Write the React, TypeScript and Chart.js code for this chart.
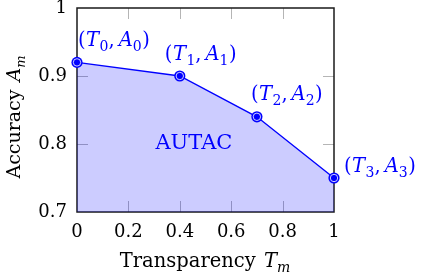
import React, { useEffect, useRef } from 'react';
import { Chart, registerables } from 'chart.js';

Chart.register(...registerables);

// ---- data ----
const transparency = [0, 0.4, 0.7, 1];
const accuracy = [0.92, 0.9, 0.84, 0.75];
const pointIndices = ['0', '1', '2', '3'];
const xTicks = [0, 0.2, 0.4, 0.6, 0.8, 1];
const xTickLabels = ['0', '0.2', '0.4', '0.6', '0.8', '1'];
const yTicks = [0.7, 0.8, 0.9, 1];
const yTickLabels = ['0.7', '0.8', '0.9', '1'];
const regionText = 'AUTAC';
const regionAt = [0.455, 0.8];
const xTitle = ['Transparency ', 'T', 'm'];
const yTitle = ['Accuracy ', 'A', 'm'];

// ---- styling / placement ----
const SERIF = '"DejaVu Serif", "Liberation Serif", serif';
const BLUE = '#0000ff';
const labelOffsets = [
  [1, -16],
  [-15, -16],
  [-6, -17],
  [10, -6],
];

type Seg = { t: string; italic?: boolean; sub?: boolean; gap?: number };

function drawSegs(
  ctx: CanvasRenderingContext2D,
  segs: Seg[],
  x: number,
  y: number,
  size: number,
  align: 'left' | 'center'
) {
  const fontFor = (s: Seg) =>
    `${s.italic ? 'italic ' : ''}${s.sub ? Math.round(size * 0.7) : size}px ${SERIF}`;
  let total = 0;
  const widths: number[] = [];
  for (const s of segs) {
    ctx.font = fontFor(s);
    const w = ctx.measureText(s.t).width + (s.gap || 0);
    widths.push(w);
    total += w;
  }
  let cx = align === 'center' ? x - total / 2 : x;
  ctx.textAlign = 'left';
  ctx.textBaseline = 'alphabetic';
  segs.forEach((s, i) => {
    ctx.font = fontFor(s);
    ctx.fillText(s.t, cx, s.sub ? y + size * 0.25 : y);
    cx += widths[i];
  });
}

const decor = {
  id: 'decor',
  beforeDatasetsDraw(chart: any) {
    const { ctx, chartArea: a, scales } = chart;
    const x = scales.x;
    const y = scales.y;
    ctx.save();
    ctx.strokeStyle = '#b5b5b5';
    ctx.lineWidth = 1;
    const TL = 11;
    for (const v of xTicks) {
      if (v <= x.min || v >= x.max) continue;
      const px = Math.round(x.getPixelForValue(v)) + 0.5;
      ctx.beginPath();
      ctx.moveTo(px, a.top);
      ctx.lineTo(px, a.top + TL);
      ctx.moveTo(px, a.bottom);
      ctx.lineTo(px, a.bottom - TL);
      ctx.stroke();
    }
    for (const v of yTicks) {
      if (v <= y.min || v >= y.max) continue;
      const py = Math.round(y.getPixelForValue(v)) + 0.5;
      ctx.beginPath();
      ctx.moveTo(a.left, py);
      ctx.lineTo(a.left + TL, py);
      ctx.moveTo(a.right, py);
      ctx.lineTo(a.right - TL, py);
      ctx.stroke();
    }
    ctx.strokeStyle = '#1a1a1a';
    ctx.lineWidth = 1.5;
    ctx.strokeRect(a.left, a.top, a.right - a.left, a.bottom - a.top);
    ctx.restore();
  },
  afterDraw(chart: any) {
    const { ctx, scales } = chart;
    const x = scales.x;
    const y = scales.y;
    ctx.save();
    ctx.fillStyle = BLUE;
    // region label
    ctx.font = `21px ${SERIF}`;
    ctx.textAlign = 'center';
    ctx.textBaseline = 'middle';
    ctx.fillText(regionText, x.getPixelForValue(regionAt[0]), y.getPixelForValue(regionAt[1]));
    // point labels
    transparency.forEach((t, i) => {
      const px = x.getPixelForValue(t) + labelOffsets[i][0];
      const py = y.getPixelForValue(accuracy[i]) + labelOffsets[i][1];
      drawSegs(
        ctx,
        [
          { t: '(', gap: 0.5 },
          { t: 'T', italic: true, gap: 0.5 },
          { t: pointIndices[i], sub: true },
          { t: ',', gap: 4 },
          { t: 'A', italic: true, gap: 0 },
          { t: pointIndices[i], sub: true, gap: 0.5 },
          { t: ')' },
        ],
        px,
        py,
        19.5,
        'left'
      );
    });
    // axis titles
    ctx.fillStyle = '#000';
    drawSegs(
      ctx,
      [{ t: xTitle[0], gap: 2 }, { t: xTitle[1], italic: true }, { t: xTitle[2], italic: true, sub: true }],
      205,
      267,
      19.5,
      'center'
    );
    ctx.translate(20, 117);
    ctx.rotate(-Math.PI / 2);
    drawSegs(
      ctx,
      [{ t: yTitle[0], gap: 2 }, { t: yTitle[1], italic: true }, { t: yTitle[2], italic: true, sub: true }],
      0,
      0,
      19,
      'center'
    );
    ctx.restore();
  },
};

export default function App() {
  const ref = useRef<HTMLCanvasElement | null>(null);
  useEffect(() => {
    if (!ref.current) return;
    const pts = transparency.map((t, i) => ({ x: t, y: accuracy[i] }));
    const tickFont = { family: SERIF, size: 18 };
    const chart = new Chart(ref.current, {
      type: 'line',
      data: {
        datasets: [
          {
            data: pts,
            borderColor: BLUE,
            borderWidth: 1.4,
            backgroundColor: 'rgba(0,0,255,0.2)',
            fill: 'start',
            pointRadius: 5.6,
            pointBackgroundColor: BLUE,
            pointBorderWidth: 0,
            clip: false,
            order: 1,
          } as any,
          {
            data: pts,
            showLine: false,
            pointRadius: 3.7,
            pointBackgroundColor: BLUE,
            pointBorderColor: '#ffffff',
            pointBorderWidth: 0.8,
            clip: false,
            order: 0,
          } as any,
        ],
      },
      options: {
        responsive: false,
        animation: false,
        devicePixelRatio: 1,
        layout: { padding: { top: 8, right: 88, left: 0, bottom: 0 } },
        plugins: { legend: { display: false }, tooltip: { enabled: false } },
        scales: {
          x: {
            type: 'linear',
            min: 0,
            max: 1,
            afterBuildTicks: (s: any) => {
              s.ticks = xTicks.map((v) => ({ value: v }));
            },
            afterFit: (s: any) => {
              s.height = 62;
              s.paddingLeft = 0;
              s.paddingRight = 0;
            },
            ticks: {
              callback: (_v: any, i: number) => xTickLabels[i],
              font: tickFont,
              color: '#000',
              padding: 10,
              maxRotation: 0,
              autoSkip: false,
            },
            grid: { display: false, drawTicks: false },
            border: { display: false },
          },
          y: {
            type: 'linear',
            min: 0.7,
            max: 1,
            afterBuildTicks: (s: any) => {
              s.ticks = yTicks.map((v) => ({ value: v }));
            },
            afterFit: (s: any) => {
              s.width = 77;
              s.paddingTop = 0;
              s.paddingBottom = 0;
            },
            ticks: {
              callback: (_v: any, i: number) => yTickLabels[i],
              font: tickFont,
              color: '#000',
              padding: 10,
              autoSkip: false,
            },
            grid: { display: false, drawTicks: false },
            border: { display: false },
          },
        },
      } as any,
      plugins: [decor],
    });
    return () => chart.destroy();
  }, []);
  return (
    <canvas
      ref={ref}
      width={422}
      height={274}
      style={{ position: 'fixed', left: 0, top: 0, width: 422, height: 274, display: 'block' }}
    />
  );
}
